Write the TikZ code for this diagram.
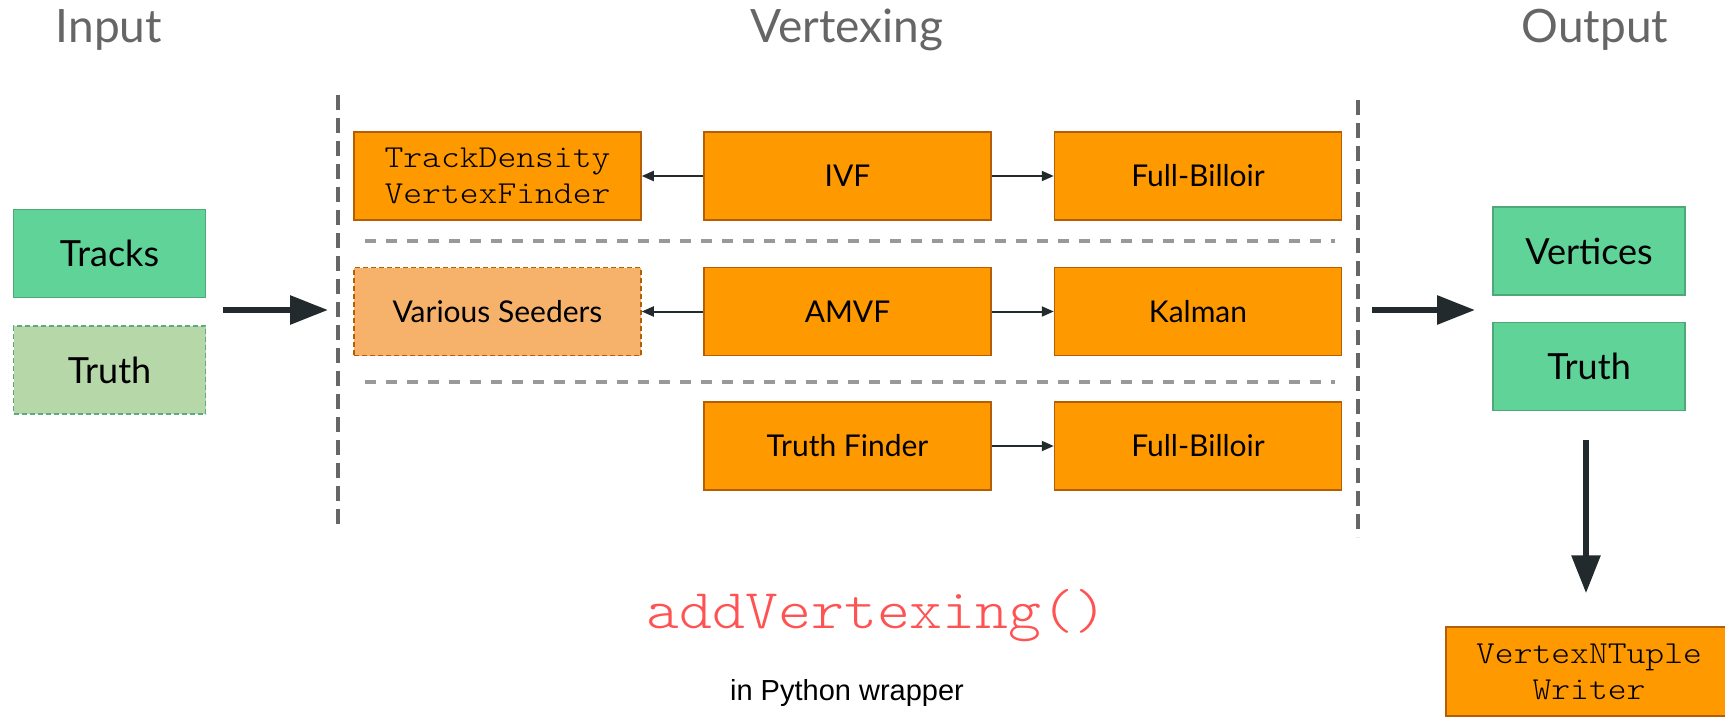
\documentclass[tikz,border=0pt]{standalone}
\usepackage{fontspec}
\setmainfont{Lato}
\newfontfamily\arialfont{Liberation Sans}
\newfontfamily\courierfont{lmmonolt10-regular.otf}[FakeStretch=1.12]
\usetikzlibrary{arrows.meta}

\definecolor{stepfill}{HTML}{FF9900}
\definecolor{stepline}{HTML}{B45F06}
\definecolor{seedfill}{HTML}{F6B26B}
\definecolor{datafill}{HTML}{5FD398}
\definecolor{dataline}{HTML}{4FA877}
\definecolor{optfill}{HTML}{B6D7A8}
\definecolor{optline}{HTML}{5BAA80}
\definecolor{titlegray}{HTML}{666666}
\definecolor{sepgray}{HTML}{999999}
\definecolor{arrowdark}{HTML}{222A2D}
\definecolor{pyred}{HTML}{FF5252}

\tikzset{
  stepbox/.style={draw=stepline, fill=stepfill, line width=1.5pt, inner sep=0pt,
    minimum width=287pt, minimum height=88pt, font=\fontsize{30}{36}\selectfont},
  codebox/.style={stepbox, align=center, font=\courierfont\fontsize{32}{38}\selectfont},
  seedbox/.style={stepbox, fill=seedfill, dashed, dash pattern=on 5pt off 3pt},
  databox/.style={draw=dataline, fill=datafill, line width=1.5pt, inner sep=0pt,
    minimum width=192pt, minimum height=88pt, font=\fontsize{36}{42}\selectfont},
  optbox/.style={databox, fill=optfill, draw=optline, dash pattern=on 5pt off 3pt},
  title/.style={text=titlegray, font=\fontsize{46}{52}\selectfont},
  colsep/.style={draw=titlegray, line width=4pt, dash pattern=on 15pt off 8pt},
  rowsep/.style={draw=sepgray, line width=4pt, dash pattern=on 11pt off 10pt},
  bigflow/.style={draw=arrowdark, line width=6pt, -{Triangle[length=38pt,width=28pt]}},
  link/.style={draw=arrowdark, line width=2pt, -{Triangle[length=12pt,width=10pt]}},
}

\begin{document}
\begin{tikzpicture}[x=1pt, y=-1pt]
  \clip (0,0) rectangle (1725,717);
  \fill[white] (0,0) rectangle (1725,717);

  % column headings
  \node[title] (tin)  at (109,30) {Input};
  \node[title] (tver) at (847,30) {Vertexing};
  \node[title] (tout) at (1595,30) {Output};

  % input collections
  \node[databox] (tracks) at (109.5,253.5) {Tracks};
  \node[optbox]  (truthin) at (109.5,370) {Truth};

  % vertexing column borders and row separators
  \draw[colsep] (338,95) -- (338,531);
  \draw[colsep] (1358,100) -- (1358,537);
  \draw[rowsep] (365,241) -- (1335,241);
  \draw[rowsep] (365,382) -- (1335,382);

  % finder / fitter chains
  \node[codebox] (tdvf) at (497.5,176) {TrackDensity\\[-2pt]VertexFinder};
  \node[stepbox] (ivf)  at (847.5,176) {IVF};
  \node[stepbox] (fb1)  at (1198,176) {Full-Billoir};

  \node[seedbox] (seed) at (497.5,311.5) {Various Seeders};
  \node[stepbox] (amvf) at (847.5,311.5) {AMVF};
  \node[stepbox] (kal)  at (1198,311.5) {Kalman};

  \node[stepbox] (tf)   at (847.5,446) {Truth Finder};
  \node[stepbox] (fb2)  at (1198,446) {Full-Billoir};

  \draw[link] (ivf) -- (tdvf);
  \draw[link] (ivf) -- (fb1);
  \draw[link] (amvf) -- (seed);
  \draw[link] (amvf) -- (kal);
  \draw[link] (tf) -- (fb2);

  % output collections and writer
  \node[databox] (verts)    at (1589,251) {Vertices};
  \node[databox] (truthout) at (1589,366.5) {Truth};
  \node[codebox, minimum width=286pt, minimum height=89pt] (writer) at (1589,671.5)
    {VertexNTuple\\[-2pt]Writer};

  % data flow
  \coordinate (inA) at (223,310);
  \coordinate (inB) at (328,310);
  \coordinate (outA) at (1372,310);
  \coordinate (outB) at (1475,310);
  \draw[bigflow] (inA) -- (inB);
  \draw[bigflow] (outA) -- (outB);
  \draw[bigflow, shorten <=29pt, shorten >=33pt] ([xshift=-3pt]truthout.south) -- ([xshift=-3pt]writer.north);

  % wrapper caption
  \node[text=pyred, font=\courierfont\fontsize{56}{62}\selectfont] (fn) at (877,616) {addVertexing()};
  \node[font=\arialfont\fontsize{29}{34}\selectfont] (wrap) at (847,693) {in Python wrapper};
\end{tikzpicture}
\end{document}
